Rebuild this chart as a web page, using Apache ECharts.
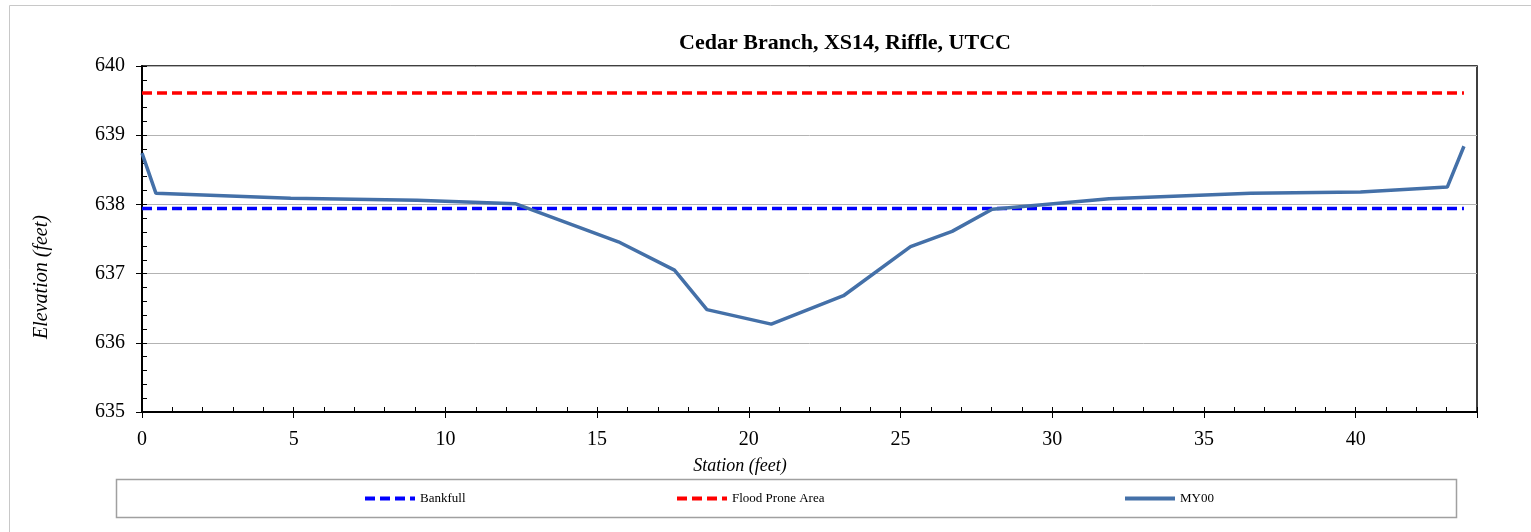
<!DOCTYPE html>
<html>
<head>
<meta charset="utf-8">
<script src="https://cdn.jsdelivr.net/npm/echarts@6/dist/echarts.min.js"></script>
<style>
  html, body { margin: 0; padding: 0; background: #fff; }
  #chart { width: 1531px; height: 532px; }
</style>
</head>
<body>
<div id="chart"></div>
<script>
// cross section survey, MY00
const stations = [0, 0.46, 4.9, 9.07, 12.3, 15.7, 17.55, 18.62, 20.74, 23.12, 25.33, 26.7, 28.02, 31.87, 36.54, 40.16, 43.02, 43.57];
const elevations = [638.74, 638.16, 638.09, 638.06, 638.01, 637.46, 637.05, 636.48, 636.27, 636.68, 637.39, 637.61, 637.93, 638.08, 638.16, 638.18, 638.25, 638.84];

// reference lines run across the surveyed width
const lineExtent = [0, 43.57];
const bankfullElev = 637.94;
const floodProneElev = 639.61;

const xTicks = [0, 5, 10, 15, 20, 25, 30, 35, 40];
const yTicks = [635, 636, 637, 638, 639, 640];

const serif = '"Liberation Serif", "Times New Roman", serif';

let chart = echarts.init(document.getElementById('chart'));

const my00 = stations.map((s, i) => [s, elevations[i]]);
const bankfull = lineExtent.map(s => [s, bankfullElev]);
const floodProne = lineExtent.map(s => [s, floodProneElev]);

const legendBase = {
  top: 492,
  padding: 0,
  itemWidth: 50,
  itemHeight: 14,
  itemGap: 4,
  itemStyle: { opacity: 0 },
  lineStyle: { width: 4 },
  textStyle: { fontFamily: serif, fontSize: 13, color: '#000' }
};

let option = {
  animation: false,
  backgroundColor: '#fff',
  grid: {
    left: 142, right: 54, top: 66, bottom: 120,
    show: true, borderColor: '#000', borderWidth: 1.5
  },
  legend: [
    Object.assign({ left: 363, data: ['Bankfull'] }, legendBase),
    Object.assign({ left: 675, data: ['Flood Prone Area'] }, legendBase),
    Object.assign({ left: 1123, data: ['MY00'] }, legendBase)
  ],
  xAxis: [
    {
      type: 'value', min: 0, max: 44, interval: 5,
      axisLine: { show: true, onZero: false, lineStyle: { color: '#000', width: 2 } },
      axisTick: { show: true, length: 6, lineStyle: { color: '#000' } },
      axisLabel: {
        margin: 18, fontFamily: serif, fontSize: 20, color: '#000',
        formatter: v => (xTicks.indexOf(v) >= 0 ? String(v) : '')
      },
      splitLine: { show: false }
    },
    {
      type: 'value', min: 0, max: 44, interval: 1, position: 'bottom',
      axisLine: { show: false },
      axisTick: { show: true, inside: true, length: 5, lineStyle: { color: '#000' } },
      axisLabel: { show: false },
      splitLine: { show: false }
    }
  ],
  yAxis: [
    {
      type: 'value', min: 635, max: 640, interval: 1,
      axisLine: { show: true, onZero: false, lineStyle: { color: '#000', width: 2 } },
      axisTick: { show: true, length: 6, lineStyle: { color: '#000' } },
      axisLabel: {
        margin: 17, fontFamily: serif, fontSize: 20, color: '#000',
        formatter: v => (yTicks.indexOf(v) >= 0 ? String(v) : '')
      },
      splitLine: { show: true, lineStyle: { color: '#b3b3b3', width: 1 } }
    },
    {
      type: 'value', min: 635, max: 640, interval: 0.2, position: 'left',
      axisLine: { show: false },
      axisTick: { show: true, inside: true, length: 5, lineStyle: { color: '#000' } },
      axisLabel: { show: false },
      splitLine: { show: false }
    }
  ],
  series: [
    {
      name: 'Bankfull', type: 'line', data: bankfull,
      symbol: 'none', color: '#0000ff',
      lineStyle: { color: '#0000ff', width: 3.5, type: [10, 5] },
      z: 3
    },
    {
      name: 'Flood Prone Area', type: 'line', data: floodProne,
      symbol: 'none', color: '#ff0000',
      lineStyle: { color: '#ff0000', width: 3.5, type: [10, 5] },
      z: 3
    },
    {
      name: 'MY00', type: 'line', data: my00,
      symbol: 'none', color: '#4470a8',
      lineStyle: { color: '#4470a8', width: 3.5 },
      z: 4
    }
  ],
  graphic: [
    {
      type: 'rect', silent: true, z: -10,
      shape: { x: 9.5, y: 5.5, width: 1530, height: 540 },
      style: { fill: 'none', stroke: '#c8c8c8', lineWidth: 1 }
    },
    {
      type: 'rect', silent: true,
      shape: { x: 116.5, y: 479.5, width: 1340, height: 38 },
      style: { fill: 'none', stroke: '#a0a0a0', lineWidth: 1.5 }
    },
    {
      type: 'text', x: 845, y: 43,
      style: {
        text: 'Cedar Branch, XS14, Riffle, UTCC',
        font: 'bold 22px ' + serif, fill: '#000',
        textAlign: 'center', textVerticalAlign: 'middle'
      }
    },
    {
      type: 'text', x: 740, y: 466,
      style: {
        text: 'Station (feet)',
        font: 'italic 18px ' + serif, fill: '#000',
        textAlign: 'center', textVerticalAlign: 'middle'
      }
    },
    {
      type: 'text', x: 42, y: 277, rotation: Math.PI / 2,
      style: {
        text: 'Elevation (feet)',
        font: 'italic 20px ' + serif, fill: '#000',
        textAlign: 'center', textVerticalAlign: 'middle'
      }
    }
  ]
};

chart.setOption(option);
</script>
</body>
</html>
